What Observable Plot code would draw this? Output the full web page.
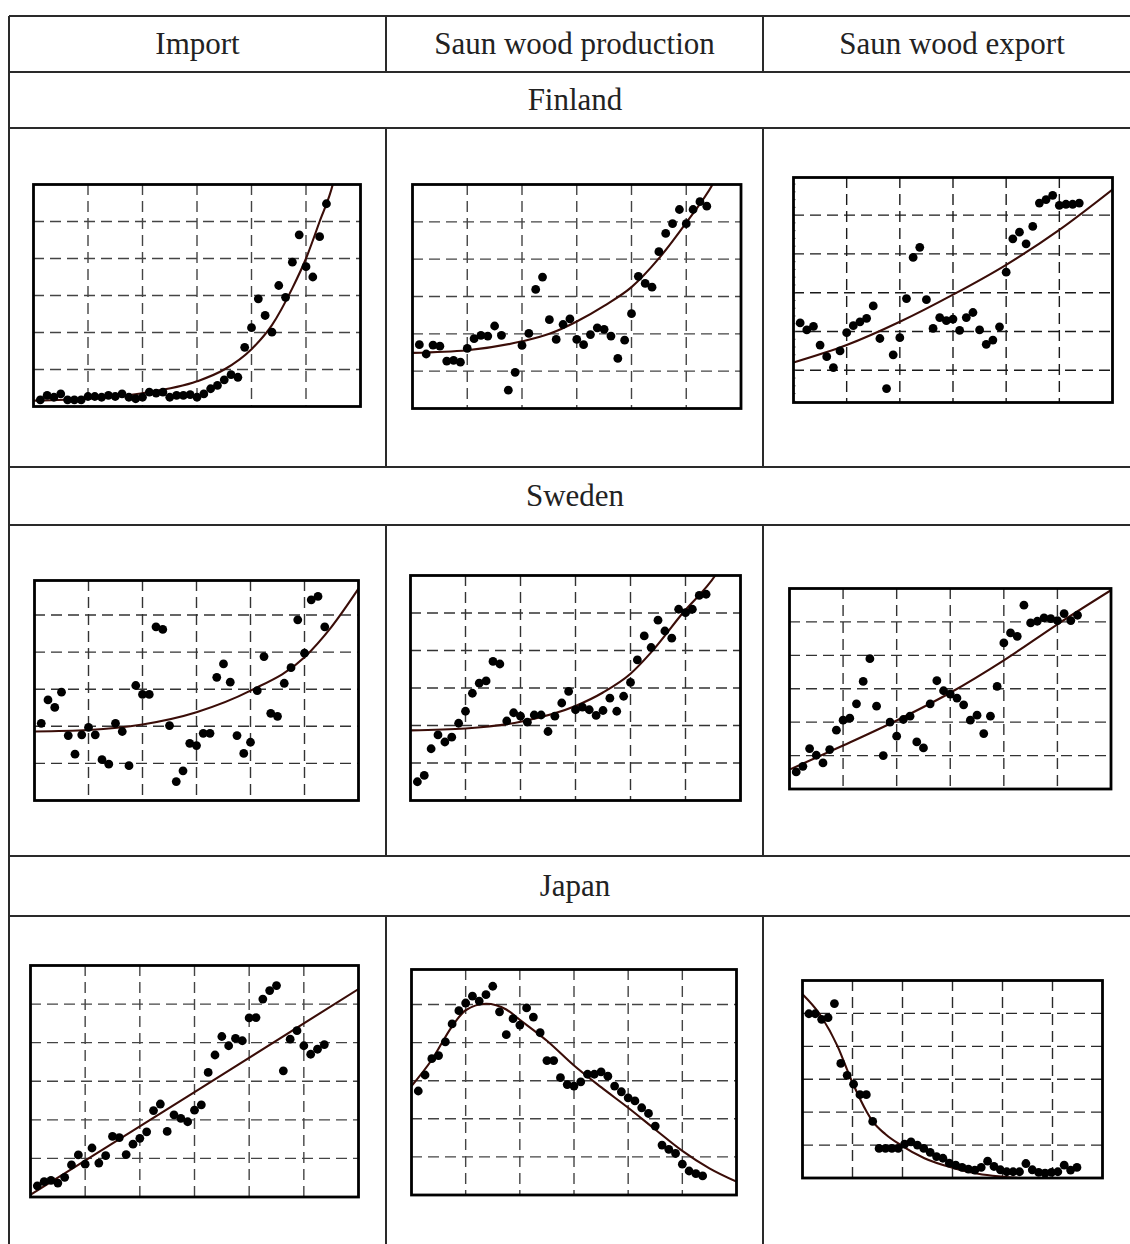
<!DOCTYPE html>
<html><head><meta charset="utf-8">
<script src="https://cdn.jsdelivr.net/npm/d3@7"></script>
<script src="https://cdn.jsdelivr.net/npm/@observablehq/plot@0.6"></script>
<style>
html,body{margin:0;padding:0;background:#fff;}
#page{position:relative;width:1130px;height:1244px;overflow:hidden;font-family:"Liberation Serif","Times New Roman",serif;color:#222;}
.ln{position:absolute;background:#2a2a2a;}
.lbl{position:absolute;display:flex;align-items:center;justify-content:center;font-size:31px;white-space:nowrap;}
.panel{position:absolute;}
</style></head><body><div id="page"></div>
<script>
// ---------------- data ----------------
const columnTitles = ["Import", "Saun wood production", "Saun wood export"];
const countries = ["Finland", "Sweden", "Japan"];
const firstYear = 1961; // annual series, one value per year

const fiImport = [0.18,0.30,0.25,0.34,0.18,0.18,0.18,0.27,0.27,0.25,0.30,0.27,0.34,0.25,0.21,0.25,0.39,0.36,0.39,0.25,0.30,0.30,0.32,0.25,0.34,0.48,0.57,0.72,0.86,0.79,1.60,2.13,2.91,2.46,2.01,3.27,2.95,3.90,4.64,3.78,3.50,4.59,5.48];
const fiProd = [1.71,1.46,1.70,1.67,1.27,1.29,1.24,1.61,1.87,1.96,1.94,2.21,1.96,0.49,0.97,1.69,2.01,3.19,3.52,2.38,1.85,2.25,2.40,1.85,1.71,1.98,2.16,2.12,1.94,1.34,1.83,2.54,3.54,3.35,3.25,4.20,4.69,4.95,5.33,4.95,5.33,5.54,5.42];
const fiExport = [2.22,2.04,2.13,1.65,1.35,1.07,1.50,1.97,2.15,2.25,2.34,2.66,1.82,0.53,1.40,1.84,2.85,3.91,4.17,2.82,2.08,2.36,2.28,2.32,2.03,2.36,2.49,2.04,1.67,1.78,2.12,3.53,4.39,4.56,4.26,4.71,5.31,5.40,5.51,5.25,5.28,5.28,5.31];
const seImport = [2.08,2.71,2.51,2.92,1.75,1.25,1.77,1.97,1.77,1.10,0.98,2.08,1.86,0.94,3.10,2.86,2.86,4.68,4.61,2.02,0.51,0.80,1.54,1.48,1.81,1.81,3.32,3.68,3.19,1.75,1.27,1.57,2.96,3.88,2.35,2.27,3.16,3.58,4.87,3.97,5.41,5.50,4.68];
const seProd = [0.50,0.67,1.38,1.75,1.56,1.69,2.06,2.38,2.86,3.13,3.19,3.71,3.64,2.12,2.34,2.25,2.09,2.28,2.28,1.84,2.25,2.60,2.91,2.42,2.49,2.42,2.27,2.40,2.73,2.38,2.78,3.15,3.75,4.39,4.08,4.81,4.52,4.33,5.10,5.01,5.10,5.47,5.50];
const seExport = [0.51,0.68,1.21,1.01,0.78,1.18,1.76,2.06,2.12,2.55,3.22,3.90,2.48,1.00,2.00,1.58,2.08,2.18,1.41,1.23,2.55,3.24,2.94,2.84,2.72,2.52,2.06,2.21,1.66,2.18,3.07,4.37,4.67,4.57,5.50,4.97,5.02,5.12,5.10,5.04,5.25,5.04,5.20];
const jpImport = [0.29,0.40,0.43,0.36,0.51,0.83,1.09,0.85,1.27,0.88,1.07,1.57,1.54,1.10,1.37,1.52,1.69,2.24,2.41,1.70,2.13,2.04,1.95,2.25,2.39,3.23,3.68,4.16,3.92,4.11,4.05,4.64,4.65,5.13,5.35,5.48,3.27,4.09,4.31,3.92,3.70,3.83,3.95];
const jpProd = [2.73,3.15,3.58,3.66,4.02,4.49,4.84,5.04,5.22,5.09,5.26,5.48,4.81,4.21,4.63,4.46,4.91,4.67,4.26,3.53,3.53,3.08,2.90,2.86,2.97,3.17,3.17,3.23,3.12,2.86,2.71,2.55,2.47,2.29,2.14,1.81,1.31,1.20,1.09,0.81,0.63,0.56,0.50];
const jpExport = [4.99,4.99,4.82,4.87,5.30,3.48,3.12,2.85,2.53,2.53,1.72,0.90,0.90,0.90,0.90,1.03,1.10,1.00,0.90,0.78,0.65,0.60,0.45,0.39,0.32,0.27,0.24,0.32,0.51,0.35,0.25,0.19,0.19,0.19,0.44,0.25,0.17,0.15,0.17,0.19,0.39,0.24,0.32];

// fitted trend curves as [year, value]
const fiImportFit = [[1960,0.16],[1968,0.21],[1976,0.36],[1984,0.68],[1988,1.0],[1992,1.55],[1995,2.2],[1998,3.2],[2000,4.0],[2002,5.0],[2004,6.05],[2005,6.9]];
const fiProdFit = [[1960,1.49],[1968,1.56],[1976,1.80],[1980,2.0],[1984,2.33],[1988,2.75],[1992,3.25],[1996,4.02],[2000,4.98],[2004,6.05],[2005,6.4]];
const fiExportFit = [[1960,1.20],[1968,1.65],[1976,2.25],[1984,2.95],[1992,3.72],[2000,4.62],[2008,5.66]];
const seImportFit = [[1960,1.86],[1968,1.90],[1976,2.05],[1984,2.38],[1992,2.96],[2000,3.86],[2004,4.68],[2008,5.71]];
const seProdFit = [[1960,1.87],[1968,1.92],[1976,2.10],[1984,2.52],[1988,2.88],[1992,3.38],[1995,3.95],[1999.6,5.0],[2004.4,6.02],[2006,6.5]];
const seExportFit = [[1960,0.58],[1968,1.30],[1976,2.05],[1984,2.88],[1992,3.85],[2000,4.93],[2008,5.95]];
const jpImportFit = [[1960,0.06],[1984,2.72],[2008,5.39]];
const jpProdFit = [[1960,2.86],[1963,3.55],[1966,4.43],[1968,4.85],[1971,5.02],[1974,4.87],[1976,4.60],[1980,4.05],[1984,3.40],[1988,2.83],[1992,2.29],[1996,1.72],[2000,1.16],[2004,0.70],[2008,0.35]];
const jpExportFit = [[1960,5.58],[1962.6,5.0],[1965.5,4.0],[1967.6,3.0],[1970.1,2.0],[1971,1.72],[1973,1.33],[1975.4,1.0],[1979.1,0.6],[1983.7,0.3],[1987.5,0.13],[1990.7,0.05],[1995,0.0],[2007,0.0]];

// ---------------- layout ----------------
const page = document.getElementById("page");
const LINE = 2;
function line(x, y, w, h) {
  const d = document.createElement("div");
  d.className = "ln";
  Object.assign(d.style, {left: x + "px", top: y + "px", width: w + "px", height: h + "px"});
  page.appendChild(d);
}
function label(text, x, y, w, h) {
  const d = document.createElement("div");
  d.className = "lbl";
  Object.assign(d.style, {left: x + "px", top: y + "px", width: w + "px", height: h + "px"});
  d.textContent = text;
  page.appendChild(d);
}
const tableLeft = 9, tableRight = 1141;
const colX = [9, 386, 763, 1141];
const rowY = [16, 72, 128, 467, 525, 856, 916, 1260];
rowY.slice(0, 7).forEach(y => line(tableLeft, y - 1, tableRight - tableLeft, LINE));
line(tableLeft - 1, 16, LINE, 1244);
[[16, 72], [128, 467], [525, 856], [916, 1260]].forEach(([a, b]) => {
  line(colX[1] - 1, a, LINE, b - a);
  line(colX[2] - 1, a, LINE, b - a);
});
columnTitles.forEach((t, i) => label(t, colX[i], 16, colX[i + 1] - colX[i], 56));
label(countries[0], tableLeft, 72, tableRight - tableLeft, 56);
label(countries[1], tableLeft, 467, tableRight - tableLeft, 58);
label(countries[2], tableLeft, 856, tableRight - tableLeft, 60);

// panel frames: [left, top, width, height] in page pixels
const panels = [
  {values: fiImport, fit: fiImportFit, frame: [33, 184, 327, 222], grid: "#444"},
  {values: fiProd, fit: fiProdFit, frame: [411.5, 183.5, 328.5, 224], grid: "#444"},
  {values: fiExport, fit: fiExportFit, frame: [792.5, 176.5, 319, 225], yDomain: [0.17, 5.97], grid: "#1a1a1a", minor: true},
  {values: seImport, fit: seImportFit, frame: [33.5, 580, 324, 220], yDomain: [0, 5.93], grid: "#333"},
  {values: seProd, fit: seProdFit, frame: [410, 575, 330, 225], grid: "#333"},
  {values: seExport, fit: seExportFit, frame: [788.5, 587.5, 321.5, 200.5], grid: "#333"},
  {values: jpImport, fit: jpImportFit, frame: [30, 964.5, 328, 231.5], grid: "#444"},
  {values: jpProd, fit: jpProdFit, frame: [411, 968.5, 325, 225.5], yDomain: [0, 5.92], grid: "#444"},
  {values: jpExport, fit: jpExportFit, frame: [802, 980, 300, 197.5], xDomain: [1960, 2007], grid: "#2a2a2a"}
];

panels.forEach(p => {
  const m = 5;
  const [fx, fy, fw, fh] = p.frame;
  const xd = p.xDomain || [1960, 2008];
  const yd = p.yDomain || [0, 6];
  const pts = p.values.map((v, i) => ({year: firstYear + i, value: v}));
  const fit = p.fit.map(([year, value]) => ({year, value}));
  const xt = d3.range(1, 6).map(k => xd[0] + k * (xd[1] - xd[0]) / 6);
  const yt = [1, 2, 3, 4, 5];
  const marks = [
    Plot.ruleX(xt, {stroke: p.grid, strokeWidth: 1.4, strokeDasharray: "11,6"}),
    Plot.ruleY(yt, {stroke: p.grid, strokeWidth: 1.4, strokeDasharray: "11,6"})
  ];
  if (p.minor) {
    const minorTicks = d3.range(Math.ceil(yd[0] * 5) / 5, yd[1], 0.2);
    marks.push(Plot.ruleY(minorTicks, {x1: xd[0], x2: xd[0] + (xd[1] - xd[0]) * 0.008, stroke: "#555", strokeWidth: 1}));
  }
  marks.push(
    Plot.line(fit, {x: "year", y: "value", stroke: "#3a0d08", strokeWidth: 2.1, curve: "monotone-x", clip: true}),
    Plot.dot(pts, {x: "year", y: "value", r: 4.4, fill: "#000", stroke: "none"}),
    Plot.frame({stroke: "#000", strokeWidth: 2.8})
  );
  const svg = Plot.plot({
    width: fw + 2 * m,
    height: fh + 2 * m,
    marginLeft: m, marginRight: m, marginTop: m, marginBottom: m,
    x: {domain: xd, axis: null},
    y: {domain: yd, axis: null},
    style: {background: "transparent", overflow: "visible"},
    marks
  });
  const holder = document.createElement("div");
  holder.className = "panel";
  holder.style.left = (fx - m) + "px";
  holder.style.top = (fy - m) + "px";
  holder.appendChild(svg);
  page.appendChild(holder);
});
</script>
</body></html>
